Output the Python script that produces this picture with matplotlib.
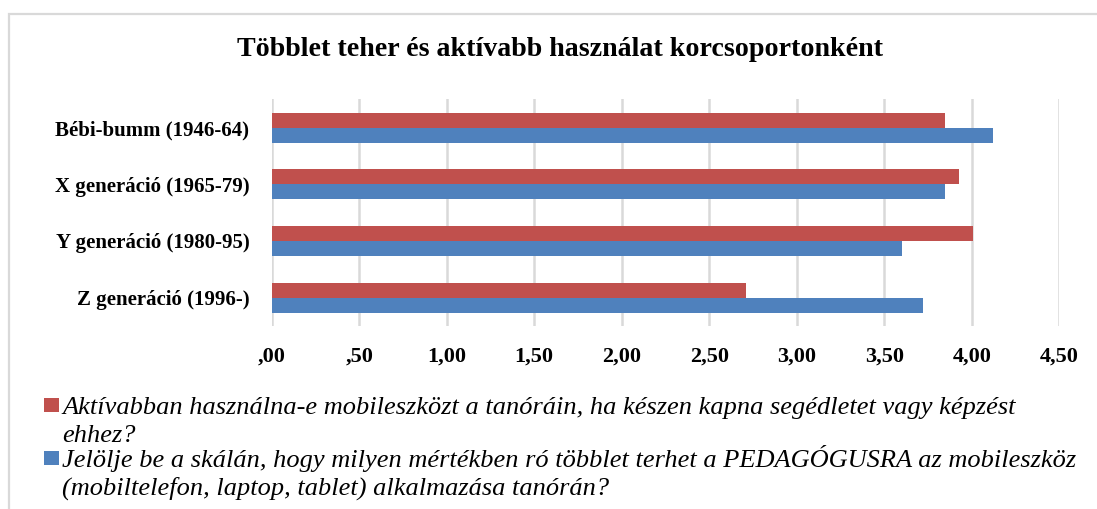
import matplotlib
matplotlib.use("Agg")
import matplotlib.pyplot as plt
import numpy as np
from matplotlib.patches import Rectangle

categories = ["Bébi-bumm (1946-64)", "X generáció (1965-79)", "Y generáció (1980-95)", "Z generáció (1996-)"]
aktivabban = [3.85, 3.93, 4.01, 2.71]
tobblet_teher = [4.12, 3.85, 3.60, 3.72]
series_labels = [
    "Aktívabban használna-e mobileszközt a tanóráin, ha készen kapna segédletet vagy képzést\nehhez?",
    "Jelölje be a skálán, hogy milyen mértékben ró többlet terhet a PEDAGÓGUSRA az mobileszköz\n(mobiltelefon, laptop, tablet) alkalmazása tanórán?",
]
tick_values = [0, 0.5, 1, 1.5, 2, 2.5, 3, 3.5, 4, 4.5]
tick_labels = [",00", ",50", "1,00", "1,50", "2,00", "2,50", "3,00", "3,50", "4,00", "4,50"]
title = "Többlet teher és aktívabb használat korcsoportonként"

RED = "#C0504D"
BLUE = "#4F81BD"
GRID = "#D9D9D9"

plt.rcParams["font.family"] = ["Liberation Serif", "DejaVu Serif"]

W, H = 1097, 509
fig = plt.figure(figsize=(W / 100, H / 100), dpi=100)


def fx(px):
    return px / W


def fy(py):
    return 1 - py / H


# chart border
fig.patches.append(Rectangle((fx(9.3), -0.1), 1.2, fy(13.7) + 0.1,
                             transform=fig.transFigure, fill=False,
                             edgecolor=GRID, linewidth=1.6))

ax = fig.add_axes([fx(271.7), fy(326), 787.5 / W, 226.8 / H])
y = np.arange(len(categories))[::-1]
h = 0.265
b_red = ax.barh(y + h / 2, aktivabban, height=h, color=RED, label=series_labels[0], zorder=3)
b_blue = ax.barh(y - h / 2, tobblet_teher, height=h, color=BLUE, label=series_labels[1], zorder=3)

ax.set_xlim(0, 4.5)
ax.set_ylim(-0.5, len(categories) - 0.5)
ax.set_xticks(tick_values)
ax.set_xticklabels(tick_labels, fontsize=16, fontweight="bold")
ax.set_yticks(y)
ax.set_yticklabels(categories, fontsize=15, fontweight="bold")
ax.tick_params(axis="x", length=0, pad=15)
ax.tick_params(axis="y", length=0, pad=16)
ax.xaxis.grid(True, color=GRID, linewidth=1.8, zorder=0)
ax.set_axisbelow(True)
for s in ax.spines.values():
    s.set_visible(False)

fig.text(fx(560), fy(50), title, ha="center", va="center", fontsize=20.2, fontweight="bold")

# legend (drawn manually so the marker sits beside the first line of each entry)
legend_first_baselines = [414, 467]
line_step = 28
for bars, label, base in zip([b_red, b_blue], series_labels, legend_first_baselines):
    color = bars.patches[0].get_facecolor()
    fig.patches.append(Rectangle((fx(44), fy(base - 2)), 15 / W, 14 / H,
                                 transform=fig.transFigure,
                                 facecolor=color, edgecolor="none"))
    for i, line in enumerate(label.split("\n")):
        fig.text(fx(62), fy(base + i * line_step), line, ha="left", va="baseline",
                 fontsize=19, style="italic")

fig.savefig("out.png", dpi=100)
